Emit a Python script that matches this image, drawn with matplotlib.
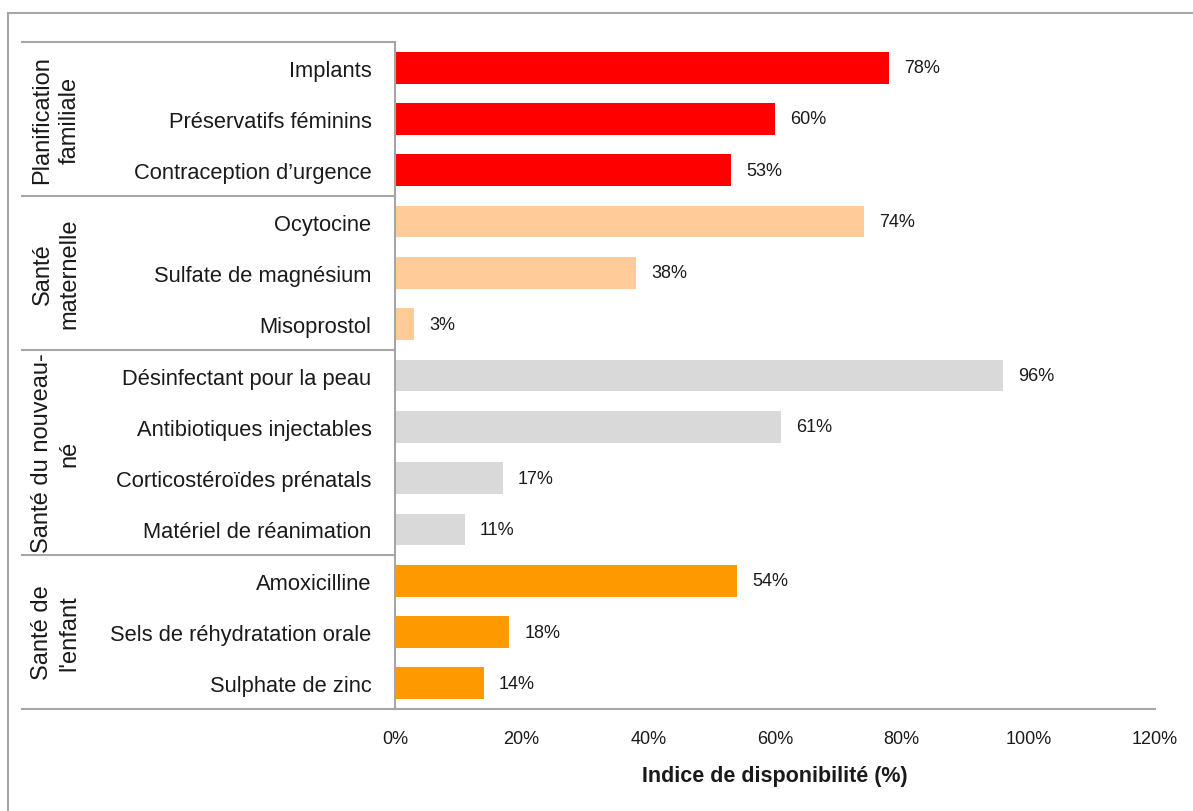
import matplotlib
matplotlib.use("Agg")
import matplotlib.pyplot as plt
import matplotlib.transforms as mtransforms
from matplotlib.lines import Line2D

plt.rcParams['font.family'] = ['Liberation Sans Narrow', 'Liberation Sans', 'DejaVu Sans']

# ---- data ----
categories = [
    "Implants", "Préservatifs féminins", "Contraception d’urgence",
    "Ocytocine", "Sulfate de magnésium", "Misoprostol",
    "Désinfectant pour la peau", "Antibiotiques injectables",
    "Corticostéroïdes prénatals", "Matériel de réanimation",
    "Amoxicilline", "Sels de réhydratation orale", "Sulphate de zinc",
]
values = [78, 60, 53, 74, 38, 3, 96, 61, 17, 11, 54, 18, 14]
groups = ["Planification\nfamiliale", "Santé\nmaternelle",
          "Santé du nouveau-\nné", "Santé de\nl'enfant"]
group_sizes = [3, 3, 4, 3]
group_colors = ["#FF0000", "#FFCC99", "#D9D9D9", "#FF9900"]
xticks = [0, 20, 40, 60, 80, 100, 120]
xtick_labels = ["0%", "20%", "40%", "60%", "80%", "100%", "120%"]
xlabel = "Indice de disponibilité (%)"

W, H = 1193, 812
fig = plt.figure(figsize=(W / 100, H / 100), dpi=100)

ax_left, ax_right, ax_top, ax_bot = 395, 1155, 43, 710
ax = fig.add_axes([ax_left / W, 1 - ax_bot / H, (ax_right - ax_left) / W, (ax_bot - ax_top) / H])

colors = []
for c, n in zip(group_colors, group_sizes):
    colors += [c] * n

y = list(range(len(categories)))
ax.barh(y, values, height=0.62, color=colors, zorder=2)
ax.set_xlim(0, 120)
ax.set_ylim(len(categories) - 0.5, -0.5)

for yi, v in zip(y, values):
    ax.annotate(f"{v}%", xy=(v, yi), xytext=(11, 0), textcoords="offset points",
                ha="left", va="center", fontsize=13, color="#1a1a1a")

ax.set_yticks(y)
ax.set_yticklabels(categories, fontsize=15.75, color="#1a1a1a")
ax.tick_params(axis="y", length=0, pad=17)
ax.set_xticks(xticks)
ax.set_xticklabels(xtick_labels, fontsize=13, color="#1a1a1a")
ax.tick_params(axis="x", length=0, pad=15)
ax.set_xlabel(xlabel, fontsize=15.5, fontweight="bold", labelpad=13, color="#1a1a1a")

for s in ["top", "right", "bottom"]:
    ax.spines[s].set_visible(False)
ax.spines["left"].set_color("#A6A6A6")
ax.spines["left"].set_linewidth(1.5)

line_col = "#A6A6A6"
xa_left = (22 - ax_left) / (ax_right - ax_left)
trans = mtransforms.blended_transform_factory(ax.transAxes, ax.transData)
bounds = [-0.5]
acc = -0.5
for n in group_sizes:
    acc += n
    bounds.append(acc)
for b in bounds:
    xr = 1.0 if b == bounds[-1] else 0.0
    ax.plot([xa_left, xr], [b, b], transform=trans, color=line_col, lw=1.5,
            clip_on=False, zorder=3)

xa_grp = (56 - ax_left) / (ax_right - ax_left)
for g, lo, hi in zip(groups, bounds[:-1], bounds[1:]):
    ax.text(xa_grp, (lo + hi) / 2, g, transform=trans, rotation=90,
            ha="center", va="center", multialignment="center",
            fontsize=17, color="#1a1a1a", linespacing=1.3)

# outer chart frame
fig.add_artist(Line2D([8 / W, 1], [1 - 14 / H, 1 - 14 / H], color=line_col, lw=1.5,
                      transform=fig.transFigure))
fig.add_artist(Line2D([8 / W, 8 / W], [0, 1 - 14 / H], color=line_col, lw=1.5,
                      transform=fig.transFigure))

fig.savefig("out.png", dpi=100)
